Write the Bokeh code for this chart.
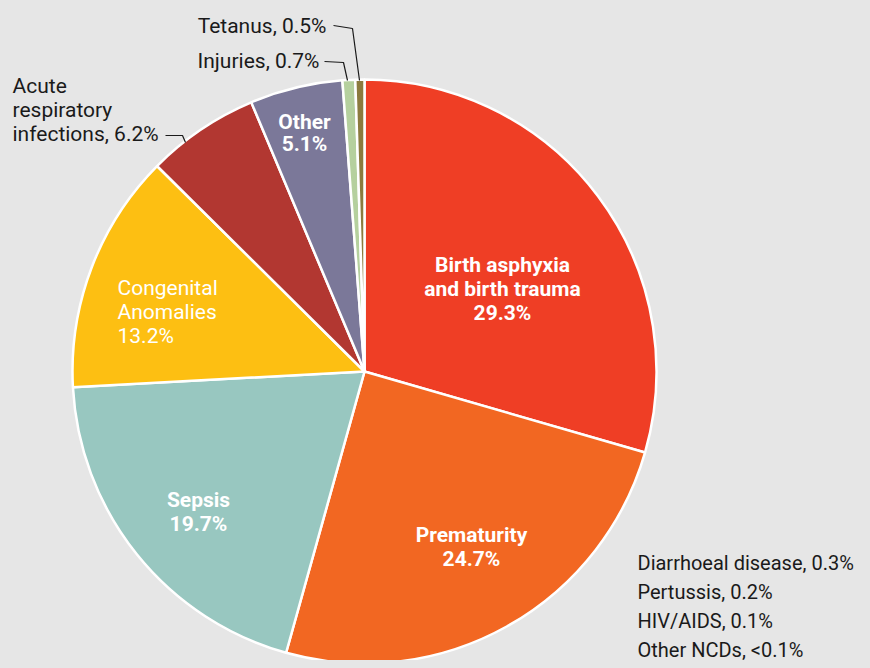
import math
from bokeh.plotting import figure
from bokeh.models import Range1d, ColumnDataSource
from bokeh.core.properties import value
from bokeh.embed import file_html
from bokeh.resources import INLINE

# ---- data ----
causes = ["Birth asphyxia and birth trauma", "Prematurity", "Sepsis", "Congenital Anomalies",
          "Acute respiratory infections", "Other", "Injuries", "Tetanus"]
shares = [29.3, 24.7, 19.7, 13.2, 6.2, 5.1, 0.7, 0.5]
colors = ["#EF3E25", "#F26722", "#98C7C0", "#FDBF12", "#B23731", "#7B7899", "#B5D09E", "#8B7B3E"]
minor_causes = ["Diarrhoeal disease, 0.3%", "Pertussis, 0.2%", "HIV/AIDS, 0.1%", "Other NCDs, <0.1%"]

FONT = "Roboto"
BG = "#E6E6E6"

W, H = 862, 660
CX, CY, R = 364, 371, 292  # pixel centre / radius of the pie
OFF = 0
TSHIFT = -8  # baseline correction for text rendering

def dx(px):
    return (px - CX) / R

def dy(py):
    return (CY - py) / R

p = figure(width=W, height=H, output_backend="svg", toolbar_location=None,
           x_range=Range1d(dx(OFF), dx(OFF + W)), y_range=Range1d(dy(OFF + H), dy(OFF)),
           min_border=0)
p.axis.visible = False
p.grid.visible = False
p.outline_line_color = None
p.background_fill_color = BG
p.border_fill_color = BG

total = sum(shares)
starts, ends = [], []
cum = 0.0
for s in shares:
    c0 = cum / total
    cum += s
    c1 = cum / total
    starts.append(math.pi / 2 - 2 * math.pi * c1)
    ends.append(math.pi / 2 - 2 * math.pi * c0)

src = ColumnDataSource(dict(start=starts, end=ends, color=colors, cause=causes, share=shares))
p.wedge(x=0, y=0, radius=1, start_angle="start", end_angle="end", fill_color="color",
        line_color="white", line_width=2.5, source=src)

def label(lines, x, y0, color, bold, align, size=21, step=24):
    ys = [dy(y0 + TSHIFT + i * step) for i in range(len(lines))]
    p.text(x=[dx(x)] * len(lines), y=ys, text=lines, text_color=color,
           text_font=value(FONT), text_font_size=f"{size}px",
           text_font_style="bold" if bold else "normal",
           text_align=align, text_baseline="alphabetic")

label(["Birth asphyxia", "and birth trauma", f"{shares[0]}%"], 502, 272, "white", True, "center")
label(["Prematurity", f"{shares[1]}%"], 471, 542, "white", True, "center")
label(["Sepsis", f"{shares[2]}%"], 198, 507, "white", True, "center")
label(["Congenital", "Anomalies", f"{shares[3]}%"], 117, 295, "white", False, "left")
label(["Other", f"{shares[5]}%"], 304, 129, "white", True, "center", step=22)
label(["Acute", "respiratory", f"infections, {shares[4]}%"], 12, 93, "#1a1a1a", False, "left")
label([f"Injuries, {shares[6]}%"], 319, 68, "#1a1a1a", False, "right")
label([f"Tetanus, {shares[7]}%"], 326, 33, "#1a1a1a", False, "right")
label(minor_causes, 637, 570, "#1a1a1a", False, "left", size=20, step=29)

# leader lines
leaders = [
    [(165, 135), (182, 135), (185, 142)],
    [(324, 61), (343, 62), (347, 80)],
    [(333, 25), (352, 28), (359, 80)],
]
p.multi_line(xs=[[dx(a) for a, b in l] for l in leaders],
             ys=[[dy(b) for a, b in l] for l in leaders],
             line_color="#1a1a1a", line_width=1.2)

html = file_html(p, INLINE)
html = html.replace("<head>", "<head><style>html,body{background:#E6E6E6;}</style>", 1)
open("out.html", "w").write(html)
